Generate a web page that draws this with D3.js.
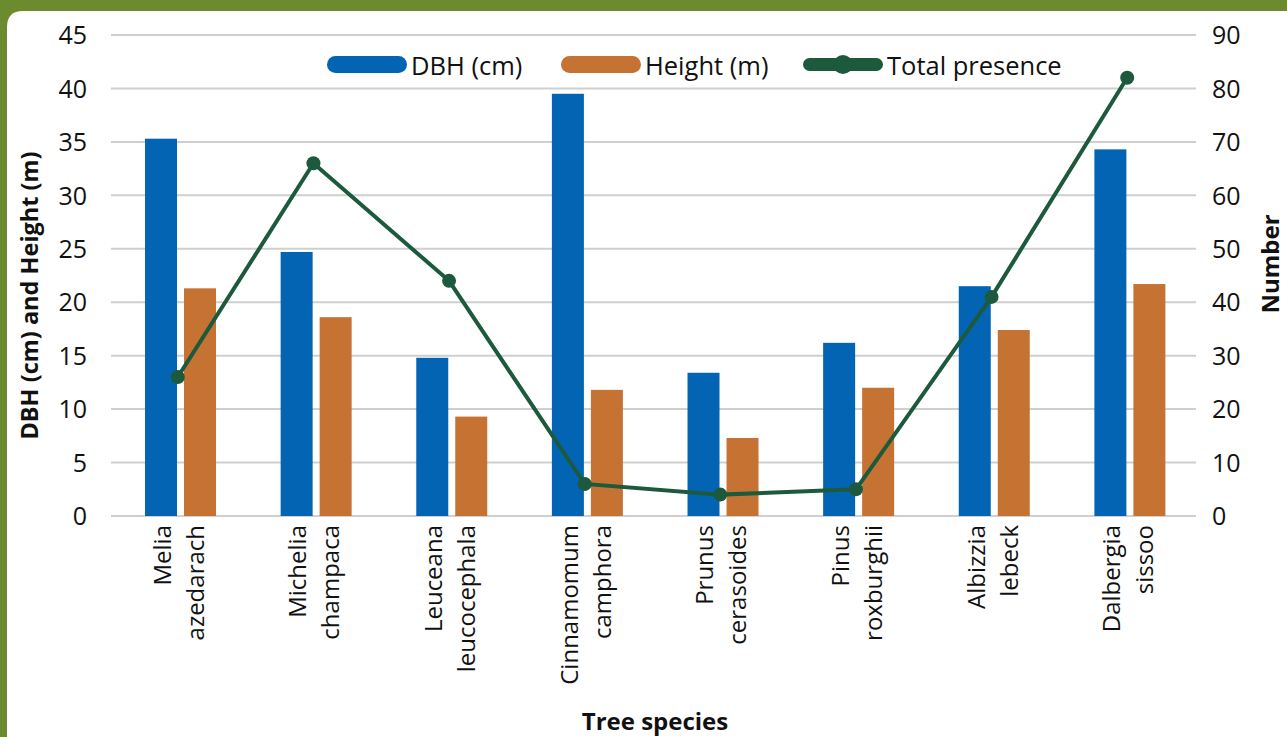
<!DOCTYPE html>
<html><head><meta charset="utf-8">
<script src="https://cdn.jsdelivr.net/npm/d3@7"></script>
<style>html,body{margin:0;padding:0;background:#6b8b2e;overflow:hidden}</style>
</head><body>
<svg id="c" width="1287" height="737"></svg>
<script>
const categories = [["Melia","azedarach"],["Michelia","champaca"],["Leuceana","leucocephala"],["Cinnamomum","camphora"],["Prunus","cerasoides"],["Pinus","roxburghii"],["Albizzia","lebeck"],["Dalbergia","sissoo"]];
const dbh = [35.3, 24.7, 14.8, 39.5, 13.4, 16.2, 21.5, 34.3];
const heightM = [21.3, 18.6, 9.3, 11.8, 7.3, 12.0, 17.4, 21.7];
const presence = [26, 66, 44, 6, 4, 5, 41, 82];
const leftTicks = [0,5,10,15,20,25,30,35,40,45];
const rightTicks = [0,10,20,30,40,50,60,70,80,90];

const FONT = "'Open Sans', 'DejaVu Sans', sans-serif";
const C_BLUE = "#0464b4", C_ORANGE = "#c67232", C_GREEN = "#1d5a3d";
const svg = d3.select("#c");
svg.append("rect").attr("width",1287).attr("height",737).attr("fill","#6b8b2e");
svg.append("path").attr("d","M7,737 L7,27 Q7,11 23,11 L1287,11 L1287,737 Z").attr("fill","#fff");

const L = 111, R = 1196, T = 35, B = 516;
const x = d3.scaleBand().domain(d3.range(categories.length)).range([L,R]);
const yL = d3.scaleLinear().domain([0,45]).range([B,T]);
const yR = d3.scaleLinear().domain([0,90]).range([B,T]);

// gridlines
svg.append("g").selectAll("line").data(leftTicks).join("line")
  .attr("x1",L).attr("x2",R).attr("y1",d=>yL(d)).attr("y2",d=>yL(d))
  .attr("stroke","#cfcfcf").attr("stroke-width",2);

// axes labels
const axL = d3.axisLeft(yL).tickValues(leftTicks).tickSize(0).tickPadding(0);
const gL = svg.append("g").attr("transform",`translate(${L-24},0)`).call(axL);
const axR = d3.axisRight(yR).tickValues(rightTicks).tickSize(0).tickPadding(0);
const gR = svg.append("g").attr("transform",`translate(${R+16},0)`).call(axR);
[gL,gR].forEach(g=>{g.select(".domain").remove();
  g.selectAll("text").attr("font-family",FONT).attr("font-size",25).attr("fill","#111").attr("dy","0.35em");});

// bars
const bw = 32, gap = 7;
const cx = i => x(i) + x.bandwidth()/2;
svg.append("g").selectAll("rect").data(dbh).join("rect")
  .attr("x",(d,i)=>cx(i)+1.7-gap/2-bw).attr("width",bw)
  .attr("y",d=>yL(d)).attr("height",d=>B-yL(d)).attr("fill",C_BLUE);
svg.append("g").selectAll("rect").data(heightM).join("rect")
  .attr("x",(d,i)=>cx(i)+1.7+gap/2).attr("width",bw)
  .attr("y",d=>yL(d)).attr("height",d=>B-yL(d)).attr("fill",C_ORANGE);

// line
const line = d3.line().x((d,i)=>cx(i)-1).y(d=>yR(d));
svg.append("path").datum(presence).attr("d",line).attr("fill","none")
  .attr("stroke",C_GREEN).attr("stroke-width",4);
svg.append("g").selectAll("circle").data(presence).join("circle")
  .attr("cx",(d,i)=>cx(i)-1).attr("cy",d=>yR(d)).attr("r",7).attr("fill",C_GREEN);

// category labels
const cg = svg.append("g");
categories.forEach((c,i)=>{
  const t = cg.append("text").attr("transform",`translate(${cx(i)},${B+9}) rotate(-90)`)
    .attr("text-anchor","end").attr("font-family",FONT).attr("font-size",24).attr("fill","#111");
  t.append("tspan").attr("x",0).attr("y",-8).text(c[0]);
  t.append("tspan").attr("x",0).attr("y",25).text(c[1]);
});

// titles
svg.append("text").attr("transform",`translate(38,${(T+B)/2+20}) rotate(-90)`)
  .attr("text-anchor","middle").attr("font-family",FONT).attr("font-weight","bold")
  .attr("font-size",23.5).attr("fill","#111").text("DBH (cm) and Height (m)");
svg.append("text").attr("transform",`translate(1279,264) rotate(-90)`)
  .attr("text-anchor","middle").attr("font-family",FONT).attr("font-weight","bold")
  .attr("font-size",24).attr("fill","#111").text("Number");
svg.append("text").attr("x",655).attr("y",730)
  .attr("text-anchor","middle").attr("font-family",FONT).attr("font-weight","bold")
  .attr("font-size",24).attr("fill","#111").text("Tree species");

// legend
const legend = [{t:"DBH (cm)",c:C_BLUE,x:327,type:"bar"},{t:"Height (m)",c:C_ORANGE,x:561,type:"bar"},{t:"Total presence",c:C_GREEN,x:803,type:"line"}];
const lg = svg.append("g");
legend.forEach(l=>{
  if(l.type==="bar"){
    lg.append("rect").attr("x",l.x).attr("y",56).attr("width",80).attr("height",17).attr("rx",8.5).attr("fill",l.c);
  } else {
    lg.append("rect").attr("x",l.x).attr("y",58).attr("width",80).attr("height",13).attr("rx",6.5).attr("fill",l.c);
    lg.append("circle").attr("cx",l.x+40).attr("cy",64.5).attr("r",9.5).attr("fill",l.c);
  }
  lg.append("text").attr("x",l.x+84).attr("y",75).attr("font-family",FONT).attr("font-size",25.5)
    .attr("fill","#111").text(l.t);
});
</script>
</body></html>
